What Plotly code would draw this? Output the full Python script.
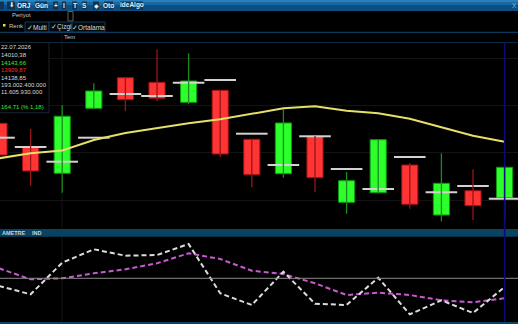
import plotly.graph_objects as go

W, H = 518, 324

# ---------------- data ----------------
idx = list(range(17))
opens  = [14324.8, 14223.4, 14113.5, 14388.2, 14517.5, 14498.1, 14413.5, 14464.3, 14257.2,
          14111.8, 14269.9, 13990.9, 14031.5, 14148.6, 13937.3, 14039.9, 14010.38]
highs  = [14330.0, 14300.7, 14402.1, 14493.8, 14519.0, 14637.5, 14620.6, 14466.0, 14259.0,
          14385.2, 14271.0, 14119.0, 14257.0, 14157.0, 14198.0, 14130.4, 14143.66]
lows   = [14185.0, 14061.1, 14031.5, 14385.2, 14376.8, 14419.0, 14405.1, 14181.1, 14054.3,
          14094.9, 14033.2, 13942.8, 14030.0, 13963.9, 13910.6, 13916.1, 13909.87]
closes = [14190.8, 14123.2, 14354.4, 14461.3, 14424.5, 14430.4, 14503.6, 14195.1, 14107.6,
          14326.1, 14094.9, 14082.2, 14255.5, 13982.5, 14071.2, 13976.6, 14138.85]
multi  = [14263.9, 14224.6, 14162.5, 14263.9, 14448.6, 14440.2, 14496.4, 14507.8, 14280.8,
          14148.6, 14269.9, 14131.7, 14047.1, 14182.4, 14033.2, 14059.8, 14006.1]
ma     = [14176.9, 14198.0, 14209.8, 14254.2, 14283.8, 14304.9, 14324.8, 14341.7, 14364.1,
          14388.2, 14396.6, 14378.0, 14367.1, 14344.2, 14307.9, 14272.4, 14247.0]
ind_a  = [-15.4, -32.0, 31.2, 58.0, 45.2, 46.6, 68.6, -30.0, -53.4,
          13.2, -50.8, -53.4, 1.2, -72.0, -44.0, -69.4, -17.4]
ind_b  = [20.0, -2.0, 0.0, 10.0, 18.0, 30.0, 50.0, 38.6, 15.2,
          8.6, -10.0, -33.4, -28.8, -33.4, -44.0, -48.0, -40.0]

info_lines = ["22.07.2026", "14010,38", "14143,66", "13909,87", "14138,85",
              "193.002.400.000", "11.605.930.000", "", "164,71 (% 1,18)"]
info_colors = ["#d8d8d8", "#d8d8d8", "#33ee33", "#ee3333", "#d8d8d8",
               "#d8d8d8", "#d8d8d8", "#d8d8d8", "#33ee33"]
toolbar_labels = ["", "⬇", "ORJ", "Gün", "+", "I", "T", "S", "◆", "Oto", "ideAlgo"]
tab_labels = ["✓Multi", "✓Çizgi", "✓Ortalama"]

GREEN, GREEN_D, GREEN_W = "#2cff2c", "#0f9a0f", "#1c8a1c"
RED, RED_D, RED_W = "#ff3535", "#a01010", "#9a1515"

# ---------------- helpers ----------------
def px(x):
    return x / W

def py(y):
    return 1 - y / H

fig = go.Figure()

# white "multi" step segments (behind candles)
mx, my = [], []
for i, v in zip(idx, multi):
    mx += [i - 0.5, i + 0.5, None]
    my += [v, v, None]
fig.add_trace(go.Scatter(x=mx, y=my, mode="lines", line=dict(color="#d2d2d2", width=2),
                         hoverinfo="skip", showlegend=False, xaxis="x", yaxis="y"))

# wicks
for up in (True, False):
    wx, wy = [], []
    for i, o, h, l, c in zip(idx, opens, highs, lows, closes):
        if (c >= o) == up:
            wx += [i, i, None]
            wy += [l, h, None]
    fig.add_trace(go.Scatter(x=wx, y=wy, mode="lines",
                             line=dict(color=GREEN_W if up else RED_W, width=1.3),
                             hoverinfo="skip", showlegend=False, xaxis="x", yaxis="y"))

# bodies
for up in (True, False):
    bx, bb, bh = [], [], []
    for i, o, c in zip(idx, opens, closes):
        if (c >= o) == up:
            bx.append(i)
            bb.append(min(o, c))
            bh.append(abs(c - o))
    fig.add_trace(go.Bar(x=bx, y=bh, base=bb, width=0.51,
                         marker=dict(color=GREEN if up else RED,
                                     line=dict(color=GREEN_D if up else RED_D, width=1)),
                         showlegend=False, xaxis="x", yaxis="y"))

# moving average
fig.add_trace(go.Scatter(x=idx, y=ma, mode="lines", line=dict(color="#e6df6a", width=2),
                         showlegend=False, xaxis="x", yaxis="y"))

# lower pane indicators
fig.add_trace(go.Scatter(x=idx, y=ind_b, mode="lines",
                         line=dict(color="#c85ad0", width=2, dash="5px,3px"),
                         showlegend=False, xaxis="x2", yaxis="y2"))
fig.add_trace(go.Scatter(x=idx, y=ind_a, mode="lines",
                         line=dict(color="#dcdcdc", width=2, dash="5px,3px"),
                         showlegend=False, xaxis="x2", yaxis="y2"))

xr = [1 / 31.6, 519 / 31.6]
shapes = []
annotations = []

# toolbar gradient
shapes.append(dict(type="rect", xref="paper", yref="paper", x0=0, x1=1, y0=py(11), y1=py(0),
                   fillcolor="#0c4f80", line=dict(width=0), layer="below"))
shapes.append(dict(type="rect", xref="paper", yref="paper", x0=0, x1=1, y0=py(5), y1=py(0),
                   fillcolor="#1769a3", line=dict(width=0), layer="below"))
shapes.append(dict(type="rect", xref="paper", yref="paper", x0=0, x1=1, y0=py(2), y1=py(0),
                   fillcolor="#2a80bd", line=dict(width=0), layer="below"))

btn_x = [(0, 4), (7, 15), (19, 28), (35, 47), (53, 58), (62, 66), (72, 77), (82, 87),
         (93, 99), (104, 113), (120, 143)]
for (a, b), lab in zip(btn_x, toolbar_labels):
    shapes.append(dict(type="rect", xref="paper", yref="paper", x0=px(a), x1=px(b),
                       y0=py(9.5), y1=py(1.5), fillcolor="#0d3556", line=dict(width=0)))
    if lab:
        txt = lab if lab in ("◆", "⬇") else "<b>" + lab + "</b>"
        annotations.append(dict(x=px((a + b) / 2), y=py(5.5), xref="paper", yref="paper",
                                text=txt, showarrow=False,
                                font=dict(size=6 if lab == "◆" else 6.5, color="#e6eef5",
                                          family="DejaVu Sans, Liberation Sans, sans-serif"
                                          if lab in ("◆", "⬇") else None),
                                xanchor="center", yanchor="middle"))
annotations.append(dict(x=px(514), y=py(5.5), xref="paper", yref="paper", text="X",
                        showarrow=False, font=dict(size=6.5, color="#8fb0c8"),
                        xanchor="center", yanchor="middle"))

# Periyot row
annotations.append(dict(x=px(10), y=py(15.5), xref="paper", yref="paper", text="Periyot",
                        showarrow=False, font=dict(size=6, color="#c8c8c8"),
                        xanchor="left", yanchor="middle"))
shapes.append(dict(type="rect", xref="paper", yref="paper", x0=px(68), x1=px(73),
                   y0=py(21), y1=py(11.5), line=dict(color="#606060", width=1)))

# tabs row
shapes.append(dict(type="rect", xref="paper", yref="paper", x0=px(3), x1=px(5.5),
                   y0=py(26.5), y1=py(24), fillcolor="#f0e020", line=dict(width=0)))
annotations.append(dict(x=px(7), y=py(25.5), xref="paper", yref="paper", text="Renk",
                        showarrow=False, font=dict(size=6, color="#c8c8c8"),
                        xanchor="left", yanchor="middle"))
tab_x = [(25, 49), (49, 72), (72, 105)]
for (a, b), lab in zip(tab_x, tab_labels):
    shapes.append(dict(type="rect", xref="paper", yref="paper", x0=px(a), x1=px(b),
                       y0=py(32), y1=py(22), fillcolor="#03080c",
                       line=dict(color="#0b3a58", width=1)))
    annotations.append(dict(x=px((a + b) / 2), y=py(27), xref="paper", yref="paper",
                            text=lab, showarrow=False, font=dict(size=6.5, color="#d8d8d8"),
                            xanchor="center", yanchor="middle"))
shapes.append(dict(type="line", xref="paper", yref="paper", x0=0, x1=1, y0=py(32.3), y1=py(32.3),
                   line=dict(color="#0b4a72", width=1)))
annotations.append(dict(x=px(69), y=py(37.5), xref="paper", yref="paper", text="Tem",
                        showarrow=False, font=dict(size=6, color="#c8c8c8"),
                        xanchor="center", yanchor="middle"))
shapes.append(dict(type="line", xref="paper", yref="paper", x0=0, x1=1, y0=py(42.5), y1=py(42.5),
                   line=dict(color="#0a2a40", width=1)))
shapes.append(dict(type="line", xref="paper", yref="paper", x0=px(62), x1=px(62),
                   y0=py(322), y1=py(33), line=dict(color="#141414", width=1), layer="below"))

# info box
shapes.append(dict(type="rect", xref="paper", yref="paper", x0=px(-2), x1=px(49),
                   y0=py(112.7), y1=py(42.5), fillcolor="#000000",
                   line=dict(color="#18242c", width=1)))
info_y = [47.3, 55, 62.7, 70.3, 77.7, 85, 92.3, 99.8, 107.3]
for t, c, yy in zip(info_lines, info_colors, info_y):
    if t:
        annotations.append(dict(x=px(-1), y=py(yy), xref="paper", yref="paper", text=t,
                                showarrow=False, font=dict(size=6, color=c),
                                xanchor="left", yanchor="middle"))

# separator band with labels
shapes.append(dict(type="rect", xref="paper", yref="paper", x0=0, x1=1, y0=py(236.7), y1=py(229),
                   fillcolor="#0a4262", line=dict(width=0)))
annotations.append(dict(x=px(0), y=py(233), xref="paper", yref="paper", text="<b>AMETRE</b>",
                        showarrow=False, font=dict(size=5.5, color="#c8d4dc"),
                        xanchor="left", yanchor="middle"))
annotations.append(dict(x=px(30), y=py(233), xref="paper", yref="paper", text="<b>IND</b>",
                        showarrow=False, font=dict(size=5.5, color="#c8d4dc"),
                        xanchor="left", yanchor="middle"))
shapes.append(dict(type="rect", xref="paper", yref="paper", x0=0, x1=1, y0=0, y1=py(322),
                   fillcolor="#0a4262", line=dict(width=0)))

# zero line in lower pane
shapes.append(dict(type="line", xref="paper", yref="y2", x0=0, x1=1, y0=0, y1=0,
                   line=dict(color="#8a8a8a", width=1)))
# crosshair
shapes.append(dict(type="line", xref="x", yref="paper", x0=idx[-1], x1=idx[-1],
                   y0=py(322), y1=py(42.5), line=dict(color="#0a0a78", width=1.5)))

fig.update_layout(
    width=W, height=H, margin=dict(l=0, r=0, t=0, b=0),
    paper_bgcolor="#000000", plot_bgcolor="#000000",
    font=dict(family="Liberation Sans, Arial, sans-serif"),
    barmode="overlay", showlegend=False, hovermode=False,
    xaxis=dict(range=xr, domain=[0, 1], anchor="y", showgrid=False, zeroline=False,
               showticklabels=False, ticks=""),
    xaxis2=dict(range=xr, domain=[0, 1], anchor="y2", matches="x", showgrid=False,
                zeroline=False, showticklabels=False, ticks=""),
    yaxis=dict(range=[13878.1, 14664.1], domain=[py(229), py(43)], showgrid=True,
               gridcolor="#141414", dtick=200, zeroline=False, showticklabels=False, ticks=""),
    yaxis2=dict(range=[-87.4, 82.6], domain=[py(322), py(237)], showgrid=False,
                zeroline=False, showticklabels=False, ticks=""),
    shapes=shapes, annotations=annotations,
)

fig.write_html("out.html")
